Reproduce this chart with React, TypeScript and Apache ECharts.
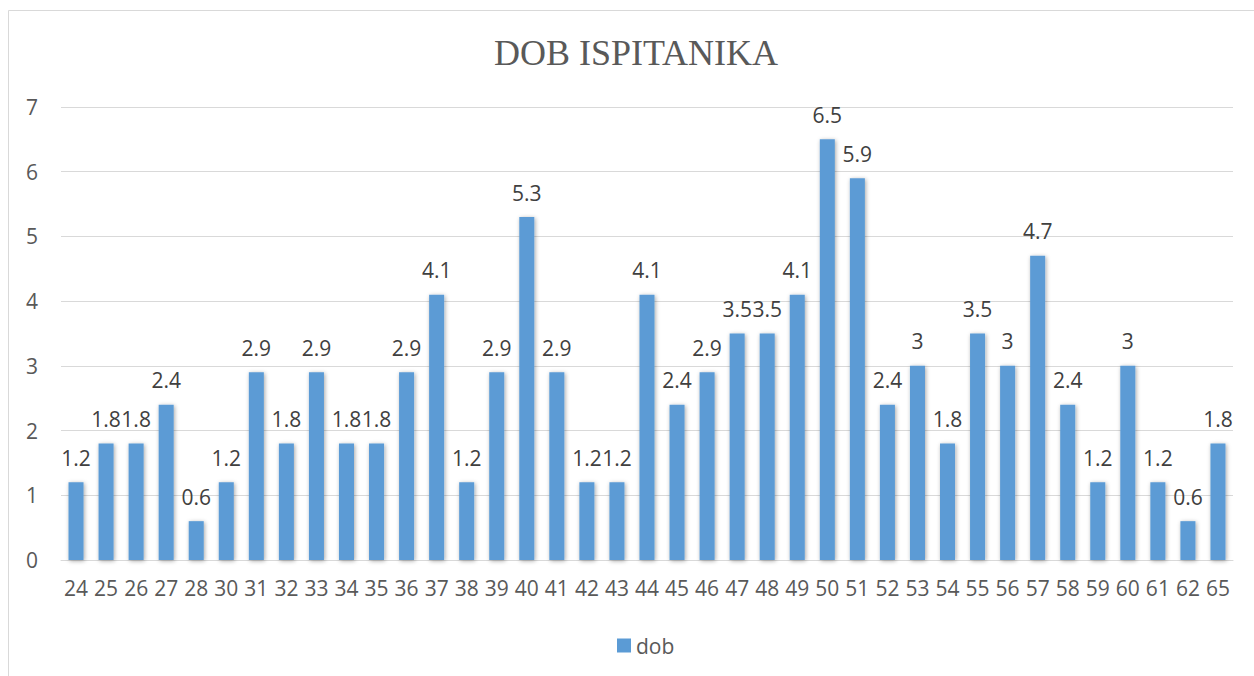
import React, { useEffect, useRef } from "react";
import * as echarts from "echarts";

const categories = ["24","25","26","27","28","30","31","32","33","34","35","36","37","38","39","40","41","42","43","44","45","46","47","48","49","50","51","52","53","54","55","56","57","58","59","60","61","62","65"];
const dobValues = [1.2,1.8,1.8,2.4,0.6,1.2,2.9,1.8,2.9,1.8,1.8,2.9,4.1,1.2,2.9,5.3,2.9,1.2,1.2,4.1,2.4,2.9,3.5,3.5,4.1,6.5,5.9,2.4,3,1.8,3.5,3,4.7,2.4,1.2,3,1.2,0.6,1.8];
const seriesName = "dob";
const titleText = "DOB ISPITANIKA";

export default function App() {
  const ref = useRef<HTMLDivElement>(null);
  useEffect(() => {
    if (!ref.current) return;
    const chart = echarts.init(ref.current, undefined, { renderer: "svg" });
    const font = "'Open Sans', 'Liberation Sans', sans-serif";
    chart.setOption({
      animation: false,
      backgroundColor: "#ffffff",
      graphic: [
        {
          type: "rect",
          shape: { x: 8.5, y: 10.5, width: 1260, height: 700 },
          style: { fill: "none", stroke: "#d9d9d9", lineWidth: 1 },
          silent: true,
          z: 0,
        },
        {
          type: "text",
          x: 636,
          y: 53,
          style: {
            text: titleText,
            font: "normal 36px 'Liberation Serif', 'Times New Roman', serif",
            fill: "#595959",
            textAlign: "center",
            textVerticalAlign: "middle",
          },
        },
      ],
      legend: {
        data: [{ name: seriesName, icon: "rect" }],
        left: 612,
        top: 630,
        itemWidth: 14,
        itemHeight: 14,
        itemGap: 5,
        textStyle: { fontSize: 21, color: "#595959", fontFamily: font },
      },
      grid: { left: 61, right: 21, top: 107, bottom: 116, containLabel: false },
      xAxis: {
        type: "category",
        data: categories,
        axisLine: { show: true, lineStyle: { color: "#d9d9d9", width: 1 } },
        axisTick: { show: false },
        axisLabel: { color: "#595959", fontSize: 21, fontFamily: font, margin: 17, interval: 0 },
      },
      yAxis: {
        type: "value",
        min: 0,
        max: 7,
        interval: 1,
        axisLine: { show: false },
        axisTick: { show: false },
        splitLine: { lineStyle: { color: "#d9d9d9", width: 1 } },
        axisLabel: { color: "#595959", fontSize: 21, fontFamily: font, margin: 23 },
      },
      series: [
        {
          name: seriesName,
          type: "bar",
          data: dobValues,
          barWidth: "50%",
          itemStyle: {
            color: "#5b9bd5",
            shadowColor: "rgba(0,0,0,0.35)",
            shadowBlur: 4,
            shadowOffsetX: 1,
            shadowOffsetY: 1,
          },
          label: {
            show: true,
            position: "top",
            distance: 14,
            color: "#404040",
            fontSize: 21,
            fontFamily: font,
          },
        },
      ],
    });
    return () => chart.dispose();
  }, []);
  return (
    <div
      ref={ref}
      style={{ position: "absolute", left: 0, top: 0, width: 1254, height: 676 }}
    />
  );
}
